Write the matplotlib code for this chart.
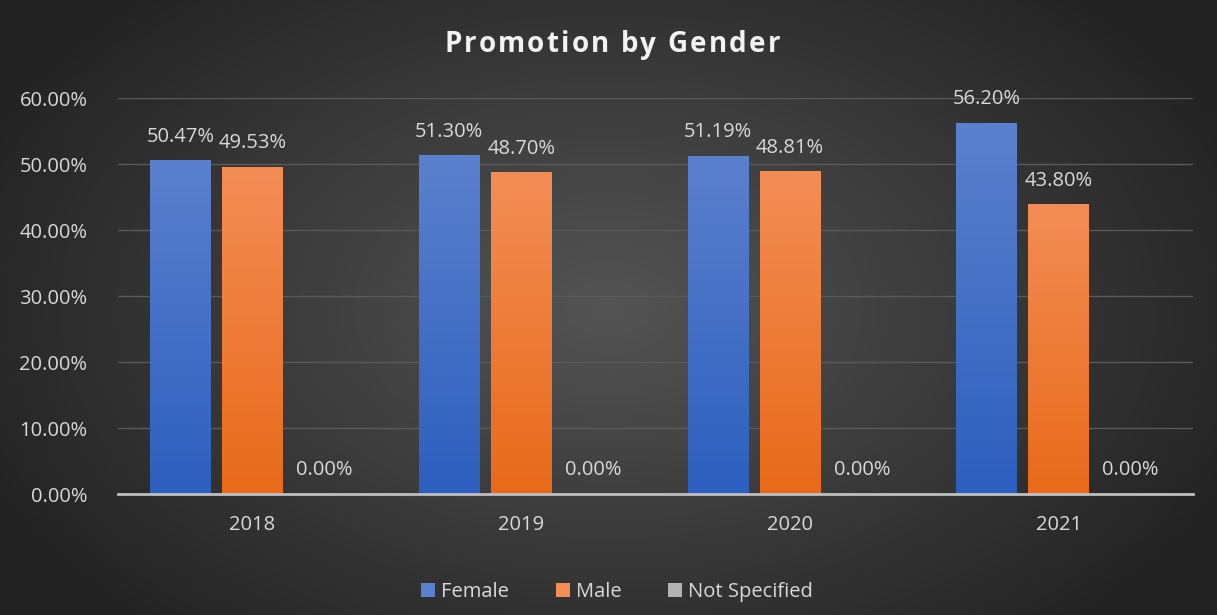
import numpy as np
import matplotlib.pyplot as plt
from matplotlib.patches import Patch

years = ['2018', '2019', '2020', '2021']
female = [50.47, 51.30, 51.19, 56.20]
male = [49.53, 48.70, 48.81, 43.80]
not_specified = [0.00, 0.00, 0.00, 0.00]

plt.rcParams['font.family'] = ['Open Sans', 'DejaVu Sans']

fig = plt.figure(figsize=(12.17, 6.15), dpi=100)

# radial gradient background
bg = fig.add_axes([0, 0, 1, 1], zorder=-10)
gx, gy = np.meshgrid(np.linspace(-1, 1, 400), np.linspace(-1, 1, 200))
r = np.sqrt(gx**2 + (gy * 0.8)**2)
shade = np.clip(0.33 - 0.17 * r, 0.14, 0.33)
bg.imshow(np.dstack([shade, shade, shade]), extent=[0, 1, 0, 1], aspect='auto')
bg.axis('off')

ax = fig.add_axes([118 / 1217, (615 - 494) / 615, 1075 / 1217, 396 / 615])
ax.patch.set_alpha(0)

x = np.arange(len(years))
w = 0.225
step = 0.268

series = [
    ('Female', female, -step, ('#5b80cd', '#2d5fbe')),
    ('Male', male, 0.0, ('#f38d56', '#e86a1a')),
    ('Not Specified', not_specified, step, ('#b3b3b3', '#8f8f8f')),
]

for name, vals, off, (top, bot) in series:
    c_top = np.array(plt.matplotlib.colors.to_rgb(top))
    c_bot = np.array(plt.matplotlib.colors.to_rgb(bot))
    t = np.linspace(1, 0, 100)[:, None]
    grad = (c_top * t + c_bot * (1 - t))[:, None, :]
    for xi, v in zip(x, vals):
        if v > 0:
            ax.imshow(grad, extent=[xi + off - w / 2, xi + off + w / 2, 0, v],
                      aspect='auto', zorder=3, interpolation='bicubic')
        ax.annotate(f'{v:.2f}%', (xi + off, v), xytext=(0, 10),
                    textcoords='offset points', ha='center', va='bottom',
                    color='#d9d9d9', fontsize=14.5, zorder=5)

ax.set_xlim(-0.5, 3.5)
ax.set_ylim(0, 60)
ax.set_yticks(np.arange(0, 61, 10))
ax.set_yticklabels([f'{v:.2f}%' for v in np.arange(0, 61, 10)])
ax.set_xticks(x)
ax.set_xticklabels(years)
ax.tick_params(colors='#d9d9d9', labelsize=14.5, length=0)
ax.tick_params(axis='x', pad=15)
ax.tick_params(axis='y', pad=22)
ax.grid(axis='y', color='#5a5a5a', linewidth=1, zorder=0)
for s in ['top', 'right', 'left']:
    ax.spines[s].set_visible(False)
ax.spines['bottom'].set_color('#bfbfbf')
ax.spines['bottom'].set_linewidth(2)
ax.spines['bottom'].set_zorder(4)

# letter-spaced title
title = 'Promotion by Gender'
renderer = fig.canvas.get_renderer()
spacing = 2.2
chars = []
total = 0
for ch in title:
    tt = fig.text(0, 0, ch, color='#f2f2f2', fontsize=20, fontweight='bold',
                  va='center', ha='left')
    cw = tt.get_window_extent(renderer).width if ch != ' ' else 7
    chars.append((tt, cw))
    total += cw + spacing
total -= spacing
xpos = 612 - total / 2
for tt, cw in chars:
    tt.set_position((xpos / 1217, 1 - 45 / 615))
    xpos += cw + spacing

handles = [Patch(facecolor=s[3][0], label=s[0]) for s in series]
fig.legend(handles=handles, loc='center', bbox_to_anchor=(0.507, 0.037), ncol=3,
           frameon=False, fontsize=14.5, labelcolor='#d9d9d9', handlelength=0.7,
           handleheight=0.7, handletextpad=0.3, columnspacing=2.3)

fig.savefig('out.png', dpi=100)
